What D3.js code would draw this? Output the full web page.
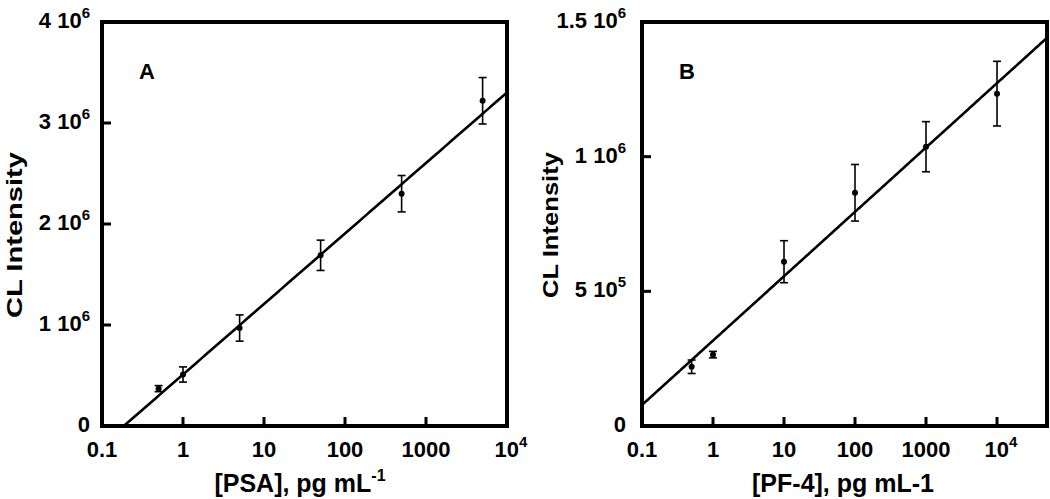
<!DOCTYPE html>
<html><head><meta charset="utf-8">
<script src="https://cdn.jsdelivr.net/npm/d3@7"></script>
<style>body{margin:0;background:#fff}svg{display:block;font-family:"Liberation Sans",Arial,sans-serif;font-weight:bold}</style>
</head><body><svg id="c" width="1050" height="499"></svg>
<script>
// Panel A: PSA
const concA = [0.5, 1, 5, 50, 500, 5000];
const valA  = [0.37e6, 0.51e6, 0.97e6, 1.69e6, 2.30e6, 3.22e6];
const errA  = [0.03e6, 0.075e6, 0.13e6, 0.15e6, 0.18e6, 0.23e6];
const fitA  = {intercept: 0.51e6, slope: 0.698e6};
const yTicksA = [0, 1e6, 2e6, 3e6, 4e6];
const yLabelsA = [["0",""],["1 10","6"],["2 10","6"],["3 10","6"],["4 10","6"]];
const xTicks = [0.1, 1, 10, 100, 1000, 10000];
const xLabelsA = [["0.1",""],["1",""],["10",""],["100",""],["1000",""],["10","4"]];

// Panel B: PF-4
const concB = [0.5, 1, 10, 100, 1000, 10000];
const valB  = [0.22e6, 0.265e6, 0.61e6, 0.866e6, 1.037e6, 1.234e6];
const errB  = [0.025e6, 0.012e6, 0.078e6, 0.105e6, 0.093e6, 0.12e6];
const fitB  = {intercept: 0.317e6, slope: 0.239e6};
const yTicksB = [0, 5e5, 1e6, 1.5e6];
const yLabelsB = [["0",""],["5 10","5"],["1 10","6"],["1.5 10","6"]];
const xLabelsB = [["0.1",""],["1",""],["10",""],["100",""],["1000",""],["10","4"]];

const svg = d3.select("#c");

function panel(o){
  const g = svg.append("g");
  const x = d3.scaleLog().domain(o.xDomain).range([o.x0, o.x1]);
  const y = d3.scaleLinear().domain(o.yDomain).range([o.y1, o.y0]);
  // fit line
  const l0 = Math.log10(o.xDomain[0]), l1 = Math.log10(o.xDomain[1]);
  const lx = d3.range(0, 201).map(i => Math.pow(10, l0 + i/200*(l1 - l0)));
  const pts = lx.map(c => [c, o.fit.intercept + o.fit.slope*Math.log10(c)]).filter(p => p[1] >= 0);
  g.append("path").attr("d", d3.line().x(d=>x(d[0])).y(d=>y(d[1]))(pts))
    .attr("fill","none").attr("stroke","#000").attr("stroke-width",2.6);
  // error bars
  o.conc.forEach((c,i) => {
    const cx = x(c), v = o.val[i], e = o.err[i];
    g.append("line").attr("x1",cx).attr("x2",cx).attr("y1",y(v-e)).attr("y2",y(v+e)).attr("stroke","#000").attr("stroke-width",1.6);
    [v-e, v+e].forEach(w => g.append("line").attr("x1",cx-4).attr("x2",cx+4).attr("y1",y(w)).attr("y2",y(w)).attr("stroke","#000").attr("stroke-width",1.6));
    g.append("circle").attr("cx",cx).attr("cy",y(v)).attr("r",3).attr("fill","#000");
  });
  // y ticks (inward) and labels
  o.yTicks.forEach((t,i) => {
    if (i>0 && i<o.yTicks.length-1) g.append("line").attr("x1",o.x0).attr("x2",o.x0+9).attr("y1",y(t)).attr("y2",y(t)).attr("stroke","#000").attr("stroke-width",3);
    const tx = g.append("text").attr("x",o.x0-o.yLabOff).attr("y",y(t)+6).attr("text-anchor","end").attr("font-size",22);
    tx.append("tspan").text(o.yLabels[i][0]);
    if (o.yLabels[i][1]) tx.append("tspan").attr("dy",-10).attr("font-size",15).text(o.yLabels[i][1]);
  });
  // x ticks and labels
  xTicks.forEach((t,i) => {
    if (t > o.xDomain[0] && t < o.xDomain[1]) g.append("line").attr("x1",x(t)).attr("x2",x(t)).attr("y1",o.y1).attr("y2",o.y1-9).attr("stroke","#000").attr("stroke-width",3);
    const tx = g.append("text").attr("x",x(t) + (o.xLabels[i][1] ? 4 : 0)).attr("y",o.y1+31).attr("text-anchor","middle").attr("font-size",22);
    tx.append("tspan").text(o.xLabels[i][0]);
    if (o.xLabels[i][1]) tx.append("tspan").attr("dy",-10).attr("font-size",15).text(o.xLabels[i][1]);
  });
  // frame
  g.append("rect").attr("x",o.x0).attr("y",o.y0).attr("width",o.x1-o.x0).attr("height",o.y1-o.y0)
    .attr("fill","none").attr("stroke","#000").attr("stroke-width",4);
  // panel letter
  g.append("text").attr("x",o.x0+37).attr("y",79).attr("font-size",22).text(o.letter);
  // y label
  g.append("text").attr("transform",`translate(${o.yLabX},${o.yLabY}) rotate(-90)`).attr("text-anchor","middle")
    .attr("font-size",22).attr("textLength",o.yLabLen).attr("lengthAdjust","spacingAndGlyphs").text("CL Intensity");
  // x label
  const xl = g.append("text").attr("x",o.xLabX).attr("y",492).attr("text-anchor","middle").attr("font-size",25);
  xl.append("tspan").text(o.xLab[0]);
  if (o.xLab[1]) xl.append("tspan").attr("dy",-11).attr("font-size",16).text(o.xLab[1]);
}

panel({x0:102, x1:507, y0:22, y1:426, xDomain:[0.1,1e4], yDomain:[0,4e6],
  conc:concA, val:valA, err:errA, fit:fitA, yTicks:yTicksA, yLabels:yLabelsA, xLabels:xLabelsA, yLabOff:12,
  letter:"A", yLabX:22, yLabY:235, yLabLen:166, xLabX:300, xLab:["[PSA], pg mL","-1"]});
panel({x0:642, x1:1047, y0:22, y1:426, xDomain:[0.1, Math.pow(10,4.704)], yDomain:[0,1.5e6],
  conc:concB, val:valB, err:errB, fit:fitB, yTicks:yTicksB, yLabels:yLabelsB, xLabels:xLabelsB, yLabOff:16,
  letter:"B", yLabX:558, yLabY:225, yLabLen:146, xLabX:843, xLab:["[PF-4], pg mL-1",""]});
</script></body></html>
